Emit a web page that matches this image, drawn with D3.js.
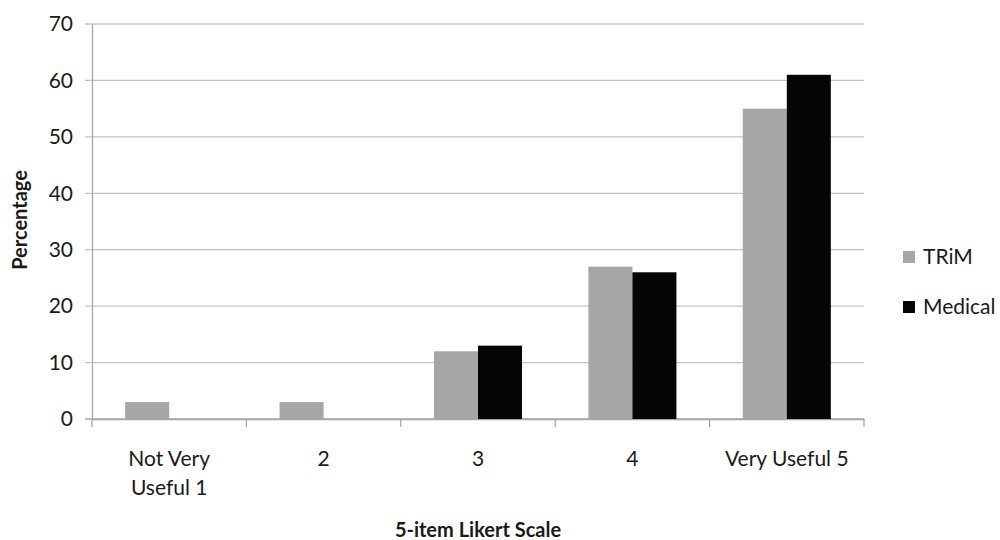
<!DOCTYPE html>
<html><head><meta charset="utf-8">
<script src="https://cdn.jsdelivr.net/npm/d3@7"></script>
<style>body{margin:0;background:#fff}svg{display:block}text{font-family:Lato,"Open Sans",sans-serif;fill:#1a1a1a}</style>
</head><body><svg id="c" width="1000" height="540"></svg>
<script>
const categories = ["Not Very|Useful 1", "2", "3", "4", "Very Useful 5"];
const seriesNames = ["TRiM", "Medical"];
const trimValues = [3, 3, 12, 27, 55];
const medicalValues = [0, 0, 13, 26, 61];
const yTicks = [0, 10, 20, 30, 40, 50, 60, 70];
const colors = ["#a6a6a6", "#050505"];
const FS = "21px";

const svg = d3.select("#c");
const L = 92, R = 864, T = 24, B = 419;
const x = d3.scaleBand().domain(categories).range([L, R]).paddingInner(0).paddingOuter(0);
const y = d3.scaleLinear().domain([0, 70]).range([B, T]);
const xs = d3.scaleBand().domain(seriesNames).range([0, x.bandwidth()]).paddingInner(0).paddingOuter(0.7535);

// gridlines
svg.append("g").selectAll("line").data(yTicks).join("line")
  .attr("x1", L - 7).attr("x2", R).attr("y1", d => y(d)).attr("y2", d => y(d))
  .attr("stroke", d => d === 0 ? "#a6a6a6" : "#c4c4c4").attr("stroke-width", 1.3);

// y axis
const ya = svg.append("g").attr("transform", `translate(${L},0)`)
  .call(d3.axisLeft(y).tickValues(yTicks).tickSize(0).tickPadding(19));
ya.select(".domain").attr("stroke", "#a6a6a6").attr("stroke-width", 1.3);
ya.selectAll("text").style("font-size", FS).style("font-family", "Lato").attr("fill", "#1a1a1a");

// x axis
const xa = svg.append("g").attr("transform", `translate(0,${B})`)
  .call(d3.axisBottom(x).tickSize(0).tickFormat(""));
xa.select(".domain").attr("stroke", "#a6a6a6").attr("stroke-width", 1.3);
const bounds = categories.map((c) => x(c)).concat([R]);
svg.append("g").selectAll("line").data(bounds).join("line")
  .attr("x1", d => d).attr("x2", d => d).attr("y1", B).attr("y2", B + 8)
  .attr("stroke", "#a6a6a6").attr("stroke-width", 1.3);

// category labels
const lab = svg.append("g").selectAll("text").data(categories).join("text")
  .attr("x", d => x(d) + x.bandwidth() / 2).attr("y", 466)
  .attr("text-anchor", "middle").style("font-size", FS);
lab.each(function(d) {
  const parts = d.split("|");
  d3.select(this).selectAll("tspan").data(parts).join("tspan")
    .attr("x", x(d) + x.bandwidth() / 2).attr("dy", (p, i) => i === 0 ? 0 : 29).text(p => p);
});

// bars
const data = categories.map((c, i) => ({c, vals: [trimValues[i], medicalValues[i]]}));
const groups = svg.append("g").selectAll("g").data(data).join("g")
  .attr("transform", d => `translate(${x(d.c)},0)`);
groups.selectAll("rect").data(d => d.vals.map((v, j) => ({v, s: seriesNames[j], j}))).join("rect")
  .attr("x", d => xs(d.s)).attr("width", xs.bandwidth())
  .attr("y", d => y(d.v)).attr("height", d => B - y(d.v))
  .attr("fill", d => colors[d.j]);

// axis titles
svg.append("text").attr("x", (L + R) / 2).attr("y", 537).attr("text-anchor", "middle")
  .style("font-size", "20px").style("font-weight", "bold").text("5-item Likert Scale");
svg.append("text").attr("transform", "translate(27,220) rotate(-90)").attr("text-anchor", "middle")
  .style("font-size", "20px").style("font-weight", "bold").text("Percentage");

// legend
const lg = svg.append("g").selectAll("g").data(seriesNames).join("g")
  .attr("transform", (d, i) => `translate(903,${257 + i * 50})`);
lg.append("rect").attr("x", 0).attr("y", -6).attr("width", 12).attr("height", 12).attr("fill", (d, i) => colors[i]);
lg.append("text").attr("x", 20).attr("y", 0).attr("dy", "0.35em").style("font-size", FS).text(d => d);
</script></body></html>
